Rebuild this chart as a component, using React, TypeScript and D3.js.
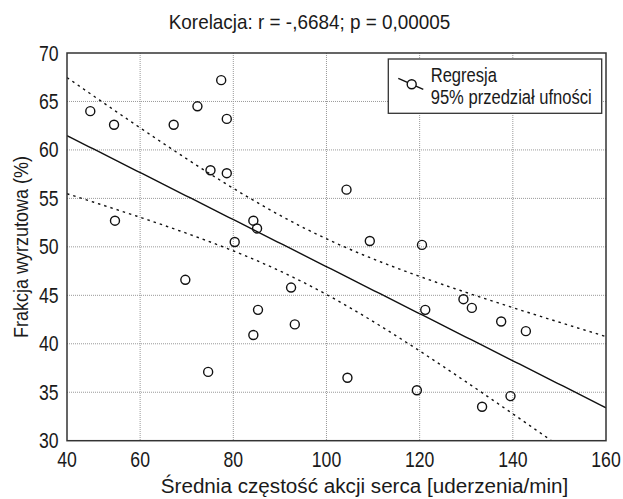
import React from "react";
import * as d3 from "d3";

const heartRate = [49.3, 54.4, 54.6, 67.2, 72.3, 77.4, 78.6, 75.1, 78.6, 84.3, 85.1, 80.3, 104.3, 109.3, 120.5, 69.7, 74.6, 84.3, 85.3, 92.4, 93.2, 104.5, 119.4, 121.2, 129.4, 131.2, 137.5, 142.8, 133.4, 139.5];
const ejection = [64.0, 62.6, 52.7, 62.6, 64.5, 67.2, 63.2, 57.9, 57.6, 52.7, 51.9, 50.5, 55.9, 50.6, 50.2, 46.6, 37.1, 40.9, 43.5, 45.8, 42.0, 36.5, 35.2, 43.5, 44.6, 43.7, 42.3, 41.3, 33.5, 34.6];
const xTicks = [40, 60, 80, 100, 120, 140, 160];
const yTicks = [30, 35, 40, 45, 50, 55, 60, 65, 70];
const xDomain = [44.3, 160];
const yDomain = [30, 70];
const legendLabels = ["Regresja", "95% przedział ufności"];
const title = "Korelacja: r = -,6684; p = 0,00005";
const xTitle = "Średnia częstość akcji serca [uderzenia/min]";
const yTitle = "Frakcja wyrzutowa (%)";
const tCrit = 2.048;

const W = 623, H = 499;
const m = { left: 67, right: 606, top: 53, bottom: 440.7 };
const font = "'Liberation Sans', Arial, sans-serif";
const ink = "#1a1a1a";

function NText({ x, y, size, sx, anchor = "start", rotate = 0, children }: any) {
  return (
    <text transform={`translate(${x},${y}) rotate(${rotate}) scale(${sx},1)`} textAnchor={anchor} fontSize={size} fill={ink}>
      {children}
    </text>
  );
}

export default function App() {
  const x = d3.scaleLinear().domain(xDomain).range([m.left, m.right]);
  const y = d3.scaleLinear().domain(yDomain).range([m.bottom, m.top]);

  const n = heartRate.length;
  const xbar = d3.mean(heartRate)!;
  const ybar = d3.mean(ejection)!;
  let sxx = 0, sxy = 0;
  for (let i = 0; i < n; i++) {
    sxx += (heartRate[i] - xbar) ** 2;
    sxy += (heartRate[i] - xbar) * (ejection[i] - ybar);
  }
  const b = sxy / sxx;
  const a = ybar - b * xbar;
  let sse = 0;
  for (let i = 0; i < n; i++) sse += (ejection[i] - (a + b * heartRate[i])) ** 2;
  const s = Math.sqrt(sse / (n - 2));
  const xs = d3.range(0, 101).map((i) => xDomain[0] + (i / 100) * (xDomain[1] - xDomain[0]));
  const fit = (v: number) => a + b * v;
  const half = (v: number) => tCrit * s * Math.sqrt(1 / n + (v - xbar) ** 2 / sxx);
  const line = d3.line<[number, number]>().x((d) => x(d[0])).y((d) => y(d[1]));
  const regPath = line(xs.map((v) => [v, fit(v)]));
  const upPath = line(xs.map((v) => [v, fit(v) + half(v)]));
  const loPath = line(xs.map((v) => [v, fit(v) - half(v)]));

  return (
    <svg width={W} height={H} style={{ position: "absolute", left: 0, top: 0, background: "#fff" }} fontFamily={font}>
      <defs>
        <clipPath id="plot">
          <rect x={m.left} y={m.top} width={m.right - m.left} height={m.bottom - m.top} />
        </clipPath>
      </defs>
      <NText x={309.5} y={29} size={19.5} sx={0.97} anchor="middle">{title}</NText>
      {/* grid */}
      {xTicks.filter((t) => t > xDomain[0] && t < xDomain[1]).map((t) => (
        <line key={"gx" + t} x1={x(t)} x2={x(t)} y1={m.top} y2={m.bottom} stroke="#999" strokeWidth={1} strokeDasharray="1,1" />
      ))}
      {yTicks.filter((t) => t > yDomain[0] && t < yDomain[1]).map((t) => (
        <line key={"gy" + t} x1={m.left} x2={m.right} y1={y(t)} y2={y(t)} stroke="#999" strokeWidth={1} strokeDasharray="1,1" />
      ))}
      <g clipPath="url(#plot)">
        <path d={upPath!} fill="none" stroke="#111" strokeWidth={1.4} strokeDasharray="2.5,4" />
        <path d={loPath!} fill="none" stroke="#111" strokeWidth={1.4} strokeDasharray="2.5,4" />
        <path d={regPath!} fill="none" stroke="#111" strokeWidth={1.4} />
      </g>
      {heartRate.map((v, i) => (
        <circle key={i} cx={x(v)} cy={y(ejection[i])} r={4.5} fill="none" stroke="#111" strokeWidth={1.4} />
      ))}
      <rect x={m.left} y={m.top} width={m.right - m.left} height={m.bottom - m.top} fill="none" stroke="#333" strokeWidth={1.5} />
      {/* tick labels */}
      {xTicks.map((t) => (
        <NText key={"xl" + t} x={x(Math.max(t, xDomain[0]))} y={466.5} size={21.5} sx={0.82} anchor="middle">{t}</NText>
      ))}
      {yTicks.map((t) => (
        <NText key={"yl" + t} x={58.5} y={y(t) + 7.5} size={21.5} sx={0.82} anchor="end">{t}</NText>
      ))}
      <NText x={364.5} y={493} size={19.5} sx={1.06} anchor="middle">{xTitle}</NText>
      <NText x={27.5} y={247} size={20} sx={0.9} anchor="middle" rotate={-90}>{yTitle}</NText>
      {/* legend */}
      <rect x={388.3} y={59} width={213.4} height={54.3} fill="#fff" stroke="#333" strokeWidth={1.3} />
      <line x1={398.3} y1={78.3} x2={423.3} y2={89.3} stroke="#111" strokeWidth={1.4} />
      <circle cx={411.7} cy={84.3} r={4.5} fill="#fff" stroke="#111" strokeWidth={1.4} />
      <NText x={430.7} y={81.7} size={19.5} sx={0.85}>{legendLabels[0]}</NText>
      <NText x={430.7} y={104} size={19.5} sx={0.85}>{legendLabels[1]}</NText>
    </svg>
  );
}
